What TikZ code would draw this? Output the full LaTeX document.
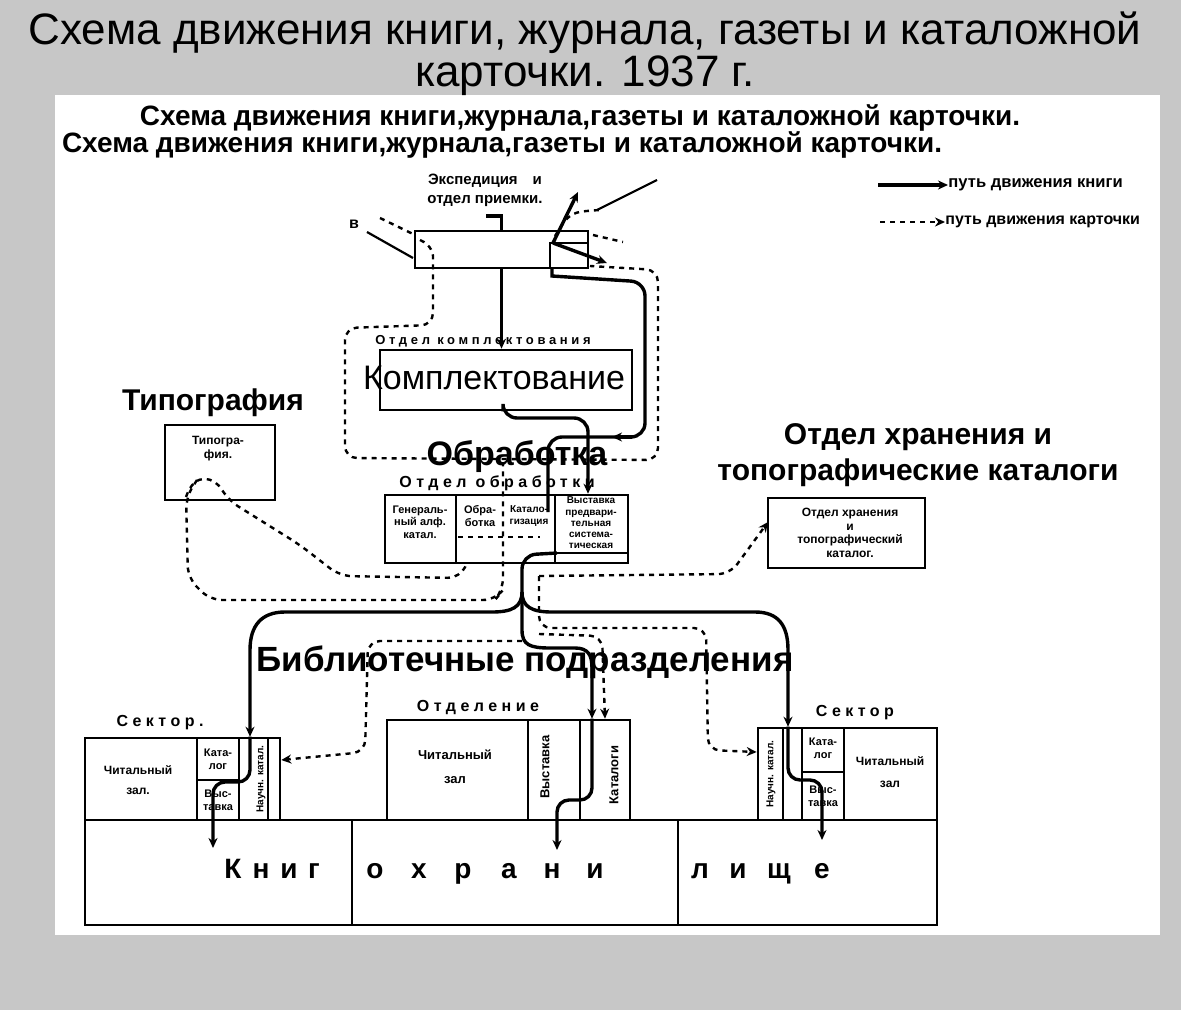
\documentclass[tikz,border=0pt]{standalone}
\usepackage{fontspec}
\setmainfont{Liberation Sans}
\newfontfamily\spacedfont[LetterSpace=28]{Liberation Sans}
\usetikzlibrary{arrows.meta}

\begin{document}
\begin{tikzpicture}[x=0.5pt,y=-0.5pt,
  frame/.style={draw, line width=1.3pt, inner sep=0pt},
  book/.style={line width=1.7pt},
  card/.style={line width=1.2pt, dash pattern=on 2.5pt off 2.5pt, rounded corners=6pt},
  tip/.style={-{Stealth[length=5pt,width=4.5pt]}},
  hand/.style={font=\bfseries\fontsize{6}{6.8}\selectfont, align=center, inner sep=0pt},
  small/.style={hand, font=\bfseries\fontsize{5.5}{6.3}\selectfont},
  spaced/.style={font=\spacedfont\bfseries\fontsize{8}{9}\selectfont, inner sep=0pt},
  head/.style={font=\bfseries\fontsize{15}{18}\selectfont, align=center, inner sep=0pt}]
\useasboundingbox (0,0) rectangle (1181,1010);
\fill[black!22] (0,0) rectangle (1181,1010);
\fill[white] (55,95) rectangle (1160,935);
% title
\node[font=\fontsize{22}{21}\selectfont, align=center, inner sep=0pt] (title) at (585,54) {Схема движения книги, журнала, газеты и каталожной\\карточки. 1937 г.};
\node[font=\bfseries\fontsize{14}{14}\selectfont, inner sep=0pt] (hd1) at (580,118) {Схема движения книги,журнала,газеты и каталожной карточки.};
\node[font=\bfseries\fontsize{14}{14}\selectfont, inner sep=0pt] (hd2) at (502,145) {Схема движения книги,журнала,газеты и каталожной карточки.};
% legend
\coordinate (lgA) at (878,185);
\coordinate (lgB) at (948,185);
\coordinate (lgC) at (880,222);
\coordinate (lgD) at (945,222);
\draw[book, tip] (lgA) -- (lgB);
\draw[card, tip] (lgC) -- (lgD);
\node[hand, font=\bfseries\fontsize{8.3}{9}\selectfont, anchor=west] (lg1) at (lgB) {путь движения книги};
\node[hand, font=\bfseries\fontsize{8}{9}\selectfont, anchor=west] (lg2) at (lgD) {путь движения карточки};

% expedition
\node[hand, font=\bfseries\fontsize{7.5}{9.5}\selectfont] (expT) at (485,190) {Экспедиция\quad и\\отдел приемки.};
\node[frame, minimum width=86.5pt, minimum height=18.5pt] (exped) at (501.5,249.5) {};
\node[frame, minimum width=19pt, minimum height=12.5pt, anchor=south east] (expedR) at (exped.south east) {};
\node[hand, font=\bfseries\fontsize{8}{9}\selectfont] (inV) at (354,224) {в};
\coordinate (inA) at (486,216);
\draw[book] (inA) -- (501.5,216) -- (exped.north);
\draw[line width=1.1pt] (367,232) -- (413,258);
\draw[card] (380,218) -- (413,234);
\draw[book, tip] (553,243) -- (578,192);
\draw[book, tip] (553,243) -- (607,263);
\draw[card] (555,236) .. controls (570,212) .. (600,210);
\draw[line width=1.1pt] (597,210) -- (657,180);
\draw[card] (593,235) -- (623,242);

% acquisition
\node[frame, minimum width=126pt, minimum height=30pt] (kompl) at (506,380) {};
\node[font=\fontsize{17}{20}\selectfont, inner sep=0pt] (komplT) at (494,378) {Комплектование};
\node[spaced, font=\spacedfont\bfseries\fontsize{6.5}{7}\selectfont] (komplL) at (483,341) {Отдел комплектования};
\draw[book, tip] (exped.south) -- (exped.south |- kompl.north);

% typography
\node[frame, minimum width=55pt, minimum height=37.5pt] (typ) at (220,462.5) {};
\node[hand, anchor=north] (typT) at (218,436) {Типогра-\\фия.};
\node[head] (typH) at (213,403) {Типография};

% processing
\node[head, font=\bfseries\fontsize{17}{20}\selectfont] (obrH) at (517,457) {Обработка};
\node[spaced] (obrL) at (497,483) {Отдел обработки};
\node[frame, minimum width=121.5pt, minimum height=34pt] (obr) at (506.5,529) {};
\draw[line width=1.3pt] (456,495) -- (456,563);
\draw[line width=1.3pt] (555,495) -- (555,563);
\draw[line width=1.1pt] (555,553) -- (628,553);
\node[small] (c1) at (420,522) {Генераль-\\ный алф.\\катал.};
\node[small] (c2) at (480,516) {Обра-\\ботка};
\node[small, font=\bfseries\fontsize{5}{6}\selectfont] (c3) at (529,516) {Катало-\\гизация};
\node[small, font=\bfseries\fontsize{5}{5.6}\selectfont] (c4) at (591,523) {Выставка\\предвари-\\тельная\\система-\\тическая};

% storage department
\node[frame, minimum width=78.5pt, minimum height=35pt] (hran) at (846.5,533) {};
\node[hand] (hranT) at (850,533) {Отдел хранения\\и\\топографический\\каталог.};
\node[head] (hranH) at (918,455) {Отдел хранения и\\топографические каталоги};

% book paths
\coordinate (junc) at (522,592);
\draw[book] (552,268) -- (552,276) [rounded corners=7pt] -- (645,282) -- (645,437) -- (548,437) -- (548,512);
\draw[book, tip] (632,437) -- (612,437);
\draw[book, tip, rounded corners=7pt] (kompl.south -| 503,0) -- (503,418) -- (588,418) -- (588,0 |- obr.north);
\draw[book, rounded corners=7pt] (557,553) -- (522,555) -- (junc);

\node[head, font=\bfseries\fontsize{17.5}{20}\selectfont] (bibH) at (525,662) {Библиотечные подразделения};

% library units
\node[spaced] (secLL) at (160,723) {Сектор.};
\node[frame, minimum width=97.5pt, minimum height=41pt] (secL) at (182.5,779) {};
\draw[line width=1.3pt] (197,738) -- (197,820);
\draw[line width=1.3pt] (239,738) -- (239,820);
\draw[line width=1.1pt] (268,738) -- (268,820);
\draw[line width=1.1pt] (197,780) -- (239,780);
\node[hand] (secL1) at (138,780) {Читальный\\[3pt]зал.};
\node[small] (secL2) at (218,759) {Ката-\\лог};
\node[small] (secL3) at (218,800) {Выс-\\тавка};
\node[small, font=\bfseries\fontsize{5}{6}\selectfont, rotate=90] (secL4) at (261,779) {Научн. катал.};

\node[spaced] (otdL) at (478,707) {Отделение};
\node[frame, minimum width=121.5pt, minimum height=50pt] (otd) at (508.5,770) {};
\draw[line width=1.3pt] (528,720) -- (528,820);
\draw[line width=1.3pt] (580,720) -- (580,820);
\node[hand, font=\bfseries\fontsize{6.5}{7}\selectfont] (otd1) at (455,767) {Читальный\\[5pt]зал};
\node[hand, font=\bfseries\fontsize{6.5}{7}\selectfont, rotate=90] (otd2) at (545,767) {Выставка};
\node[hand, font=\bfseries\fontsize{6.5}{7}\selectfont, rotate=90] (otd3) at (614,775) {Каталоги};

\node[spaced] (secRL) at (855,713) {Сектор};
\node[frame, minimum width=89.5pt, minimum height=46pt] (secR) at (847.5,774) {};
\draw[line width=1.1pt] (783,728) -- (783,820);
\draw[line width=1.3pt] (802,728) -- (802,820);
\draw[line width=1.3pt] (844,728) -- (844,820);
\draw[line width=1.1pt] (802,772) -- (844,772);
\node[small, font=\bfseries\fontsize{5}{6}\selectfont, rotate=90] (secR4) at (771,774) {Научн. катал.};
\node[small] (secR2) at (823,748) {Ката-\\лог};
\node[small] (secR3) at (823,796) {Выс-\\тавка};
\node[hand] (secR1) at (890,772) {Читальный\\[4pt]зал};

% book stack
\node[frame, minimum width=426pt, minimum height=52.5pt] (khran) at (511,872.5) {};
\draw[line width=1.3pt] (352,820) -- (352,925);
\draw[line width=1.3pt] (678,820) -- (678,925);
\foreach \x/\l in {233/К, 261/н, 289/и, 314/г, 375/о, 419/х, 463/р, 509/а, 552/н, 595/и, 700/л, 738/и, 779/щ, 822/е}
  \node[font=\bfseries\fontsize{14}{16}\selectfont, inner sep=0pt, anchor=base] (kh\x) at (\x,878) {\l};

% book paths to units
\draw[book, tip] (junc) .. controls (522,607) and (512,612) .. (492,612) -- (285,612) .. controls (262,612) and (250,625) .. (250,650) -- (250,0 |- secL.north);
\draw[book, tip] (junc) .. controls (522,607) and (532,612) .. (552,612) -- (755,612) .. controls (778,612) and (788,625) .. (788,650) -- (788,0 |- secR.north);
\draw[book, tip] (junc) -- (522,630) .. controls (522,645) and (530,648) .. (550,648) -- (575,648) .. controls (588,648) and (592,655) .. (592,668) -- (592,0 |- otd.north);
\draw[book, tip, rounded corners=6pt] (250,0 |- secL.north) -- (250,782) -- (213,782) -- (213,848);
\draw[book, tip, rounded corners=6pt] (592,0 |- otd.north) -- (592,800) -- (557,800) -- (557,850);
\draw[book, tip, rounded corners=6pt] (788,0 |- secR.north) -- (788,780) -- (822,780) -- (822,840);

% card paths
\draw[card] (420,240) .. controls (432,245) and (433,255) .. (433,268) -- (433,325) -- (345,328) -- (345,458) -- (658,460) -- (658,270) -- (590,266);
\draw[card] (197,480) -- (186,497) -- (188,578) -- (210,600) -- (495,600) -- (503,590) -- (503,462);
\draw[card] (186,497) .. controls (195,470) and (215,478) .. (228,500) -- (300,545) -- (340,576) -- (460,578) -- (467,563);
\draw[card] (458,537) -- (540,537);
\draw[card, tip] (539,576) -- (730,574) -- (768,522);
\draw[card, tip] (539,576) -- (539,628) -- (706,628) -- (708,750) -- (secR.west |- 0,752);
\draw[card, tip] (539,634) -- (602,636) -- (605,0 |- otd.north);
\draw[card, tip] (522,641) -- (368,641) -- (365,752) -- (secL.east |- 0,760);
\end{tikzpicture}
\end{document}
